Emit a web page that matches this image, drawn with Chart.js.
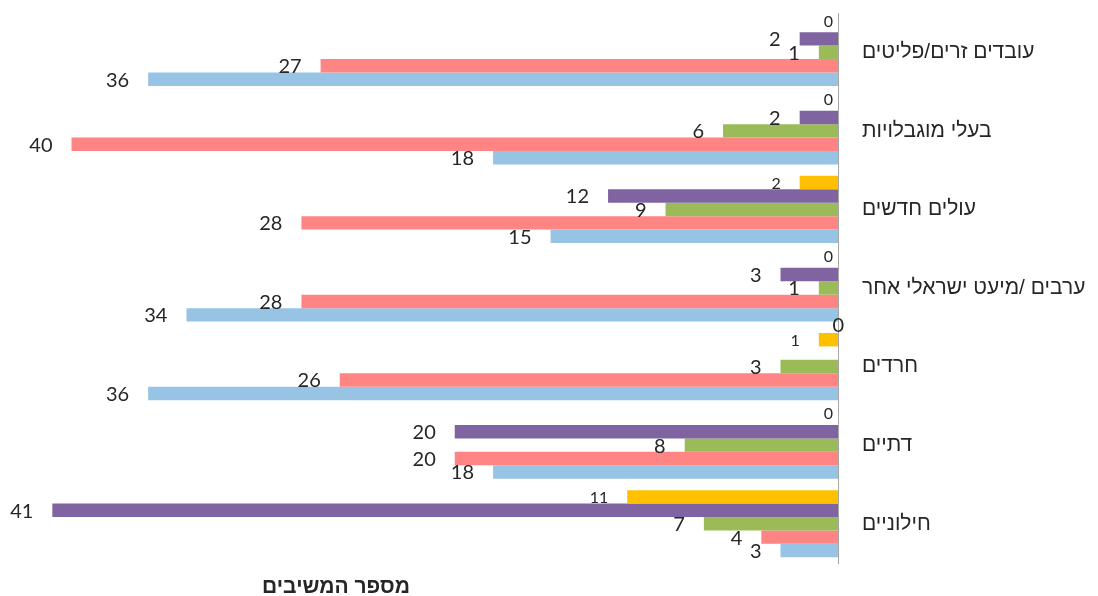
<!DOCTYPE html>
<html lang="he">
<head>
<meta charset="utf-8">
<script src="https://cdn.jsdelivr.net/npm/chart.js@4.4.1/dist/chart.umd.min.js"></script>
<style>
  html, body { margin: 0; padding: 0; background: #fff; }
  #wrap { position: relative; width: 1098px; height: 596px; }
  #axis-title {
    position: absolute; left: 252px; top: 574px; width: 168px;
    direction: rtl; text-align: center;
    font: bold 21px "Liberation Sans", "DejaVu Sans", sans-serif; color: #262626;
  }
</style>
</head>
<body>
<div id="wrap">
  <canvas id="chart" width="1098" height="596"></canvas>
  <div id="axis-title">מספר המשיבים</div>
</div>
<script>
  // categories, top to bottom
  const categories = ['עובדים זרים/פליטים', 'בעלי מוגבלויות', 'עולים חדשים', 'ערבים /מיעט ישראלי אחר', 'חרדים', 'דתיים', 'חילוניים'];

  // series, in the order they sit inside each group (top -> bottom)
  const yellowValues = [0, 0, 2, 0, 1, 0, 11];
  const purpleValues = [2, 2, 12, 3, 0, 20, 41];
  const greenValues  = [1, 6, 9, 1, 3, 8, 7];
  const redValues    = [27, 40, 28, 28, 26, 20, 4];
  const blueValues   = [36, 18, 15, 34, 36, 18, 3];

  // value labels at the outer end of each bar
  const barLabels = {
    id: 'barLabels',
    afterDatasetsDraw(chart, args, opts) {
      const ctx = chart.ctx;
      ctx.save();
      ctx.fillStyle = opts.color;
      ctx.textAlign = 'right';
      ctx.textBaseline = 'middle';
      chart.data.datasets.forEach(function (ds, i) {
        const meta = chart.getDatasetMeta(i);
        meta.data.forEach(function (bar, j) {
          const v = ds.data[j];
          let x = bar.x - (v ? 19 : 5);
          let y = bar.y + (v ? 1 : -4);
          const moved = opts.moved[i + ':' + j];
          if (moved) { x += moved.dx; y += moved.dy; }
          ctx.font = ds.labelSize + 'px Lato, "Open Sans", sans-serif';
          ctx.fillText(String(v), x, y);
        });
      });
      ctx.restore();
    }
  };

  const ctx = document.getElementById('chart').getContext('2d');
  const chart = new Chart(ctx, {
    type: 'bar',
    data: {
      labels: categories,
      datasets: [
        { data: yellowValues, backgroundColor: '#FFC000', labelSize: 16 },
        { data: purpleValues, backgroundColor: '#8064A2', labelSize: 20 },
        { data: greenValues,  backgroundColor: '#9BBB59', labelSize: 20 },
        { data: redValues,    backgroundColor: '#FF8585', labelSize: 20 },
        { data: blueValues,   backgroundColor: '#97C3E4', labelSize: 20 }
      ]
    },
    options: {
      indexAxis: 'y',
      responsive: false,
      animation: false,
      layout: { padding: { left: 14, top: 13, bottom: 33, right: 0 } },
      datasets: {
        bar: { categoryPercentage: 0.855, barPercentage: 1.0, borderWidth: 0 }
      },
      scales: {
        x: {
          display: false,
          reverse: true,
          min: 0,
          max: 43
        },
        y: {
          position: 'right',
          grid: { display: false, drawTicks: false },
          border: { display: true, color: '#A6A6A6', width: 1 },
          afterFit: function (scale) {
            scale.width = 260;
            scale.paddingTop = 0;
            scale.paddingBottom = 0;
          },
          ticks: {
            padding: 24,
            color: '#262626',
            font: { family: '"Liberation Sans", "DejaVu Sans", sans-serif', size: 21 }
          }
        }
      },
      plugins: {
        legend: { display: false },
        tooltip: { enabled: false },
        barLabels: {
          color: '#262626',
          moved: { '1:4': { dx: 11, dy: -24 } }
        }
      }
    },
    plugins: [barLabels]
  });
</script>
</body>
</html>
